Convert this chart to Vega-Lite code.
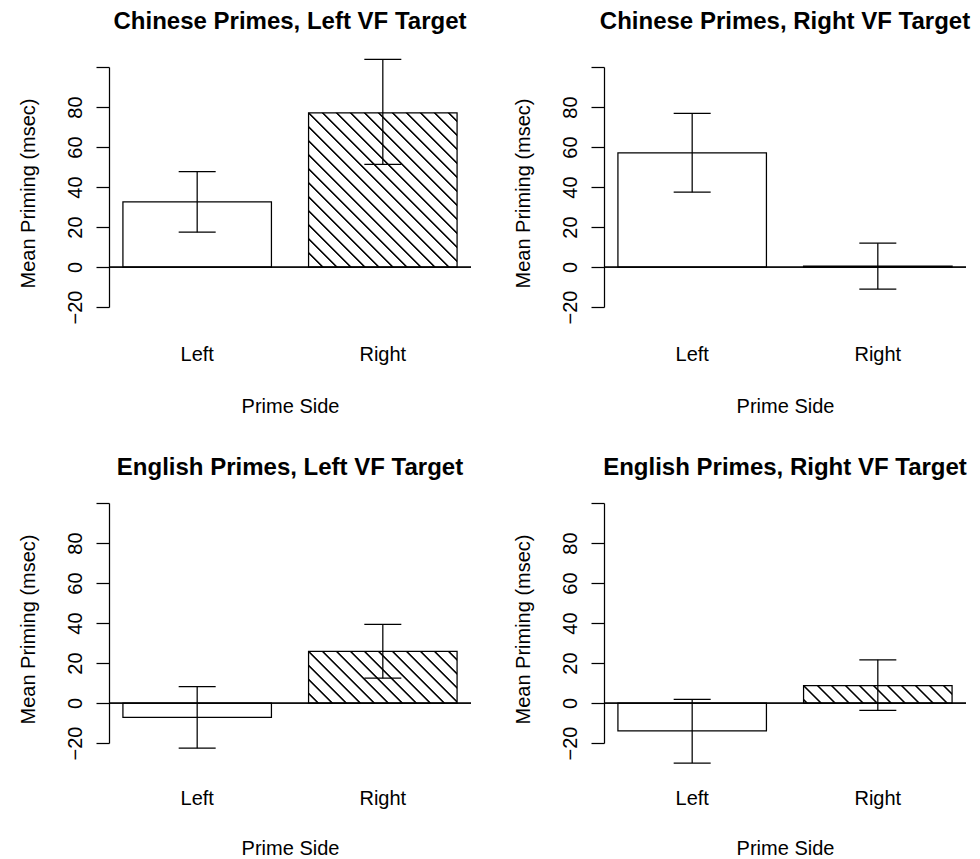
{
  "$schema": "https://vega.github.io/schema/vega-lite/v6.json",
  "background": "white",
  "padding": {"left": 17, "top": 10, "right": 5, "bottom": 0},
  "datasets": {
    "d": [
      {"panel": "cl", "side": "Left", "mean": 32.6, "lo": 17.4, "hi": 47.7},
      {"panel": "cl", "side": "Right", "mean": 77.1, "lo": 51.3, "hi": 103.8},
      {"panel": "cr", "side": "Left", "mean": 57.1, "lo": 37.4, "hi": 76.8},
      {"panel": "cr", "side": "Right", "mean": 0.5, "lo": -11.0, "hi": 11.9},
      {"panel": "el", "side": "Left", "mean": -7.2, "lo": -22.6, "hi": 8.2},
      {"panel": "el", "side": "Right", "mean": 25.8, "lo": 12.4, "hi": 39.3},
      {"panel": "er", "side": "Left", "mean": -13.9, "lo": -30.0, "hi": 1.8},
      {"panel": "er", "side": "Right", "mean": 8.7, "lo": -3.7, "hi": 21.6}
    ]
  },
  "columns": 2,
  "spacing": {"row": 196, "column": 133},
  "bounds": "flush",
  "concat": [
    {
      "title": {"text": "Chinese Primes, Left VF Target", "offset": 5.5, "frame": "group", "baseline": "alphabetic"},
      "width": 362, "height": 240,
      "data": {"name": "d"},
      "transform": [{"filter": "datum.panel == 'cl'"}],
      "layer": [
        {
          "encoding": {"x": {"field": "side", "type": "nominal", "scale": {"domain": ["Left", "Right"], "paddingInner": 0.2, "paddingOuter": 0.075}, "axis": {"title": "Prime Side", "labelPadding": 53, "titleY": 105}}},
          "layer": [
            {"transform": [{"filter": "datum.side == 'Left'"}], "mark": {"type": "bar", "fill": "white", "stroke": "black", "strokeWidth": 1.25, "opacity": 1},
             "encoding": {"y": {"field": "mean", "type": "quantitative", "scale": {"domain": [-20, 100], "nice": false, "zero": false}, "axis": {"title": "Mean Priming (msec)", "values": [-20, 0, 20, 40, 60, 80, 100], "labelExpr": "datum.value == 100 ? '' : datum.label", "labelOverlap": false}}}},
            {"transform": [{"filter": "datum.side == 'Right'"}], "mark": {"type": "bar", "stroke": "black", "strokeWidth": 1.25, "opacity": 1,
              "fill": {"gradient": "linear", "x1": 0, "y1": 1, "x2": 0.98081, "y2": -0.01846, "stops": [
                {"offset": 0.0416, "color": "#fff"}, {"offset": 0.0449, "color": "#000"}, {"offset": 0.0489, "color": "#000"}, {"offset": 0.0522, "color": "#fff"},
                {"offset": 0.0879, "color": "#fff"}, {"offset": 0.0912, "color": "#000"}, {"offset": 0.0952, "color": "#000"}, {"offset": 0.0985, "color": "#fff"},
                {"offset": 0.1341, "color": "#fff"}, {"offset": 0.1374, "color": "#000"}, {"offset": 0.1414, "color": "#000"}, {"offset": 0.1447, "color": "#fff"},
                {"offset": 0.1804, "color": "#fff"}, {"offset": 0.1837, "color": "#000"}, {"offset": 0.1877, "color": "#000"}, {"offset": 0.1910, "color": "#fff"},
                {"offset": 0.2266, "color": "#fff"}, {"offset": 0.2299, "color": "#000"}, {"offset": 0.2339, "color": "#000"}, {"offset": 0.2372, "color": "#fff"},
                {"offset": 0.2729, "color": "#fff"}, {"offset": 0.2762, "color": "#000"}, {"offset": 0.2802, "color": "#000"}, {"offset": 0.2835, "color": "#fff"},
                {"offset": 0.3191, "color": "#fff"}, {"offset": 0.3224, "color": "#000"}, {"offset": 0.3264, "color": "#000"}, {"offset": 0.3297, "color": "#fff"},
                {"offset": 0.3654, "color": "#fff"}, {"offset": 0.3687, "color": "#000"}, {"offset": 0.3727, "color": "#000"}, {"offset": 0.3760, "color": "#fff"},
                {"offset": 0.4116, "color": "#fff"}, {"offset": 0.4149, "color": "#000"}, {"offset": 0.4189, "color": "#000"}, {"offset": 0.4222, "color": "#fff"},
                {"offset": 0.4579, "color": "#fff"}, {"offset": 0.4612, "color": "#000"}, {"offset": 0.4652, "color": "#000"}, {"offset": 0.4685, "color": "#fff"},
                {"offset": 0.5041, "color": "#fff"}, {"offset": 0.5074, "color": "#000"}, {"offset": 0.5114, "color": "#000"}, {"offset": 0.5147, "color": "#fff"},
                {"offset": 0.5504, "color": "#fff"}, {"offset": 0.5537, "color": "#000"}, {"offset": 0.5577, "color": "#000"}, {"offset": 0.5610, "color": "#fff"},
                {"offset": 0.5966, "color": "#fff"}, {"offset": 0.5999, "color": "#000"}, {"offset": 0.6039, "color": "#000"}, {"offset": 0.6072, "color": "#fff"},
                {"offset": 0.6429, "color": "#fff"}, {"offset": 0.6462, "color": "#000"}, {"offset": 0.6502, "color": "#000"}, {"offset": 0.6535, "color": "#fff"},
                {"offset": 0.6891, "color": "#fff"}, {"offset": 0.6924, "color": "#000"}, {"offset": 0.6964, "color": "#000"}, {"offset": 0.6997, "color": "#fff"},
                {"offset": 0.7354, "color": "#fff"}, {"offset": 0.7387, "color": "#000"}, {"offset": 0.7427, "color": "#000"}, {"offset": 0.7460, "color": "#fff"},
                {"offset": 0.7816, "color": "#fff"}, {"offset": 0.7849, "color": "#000"}, {"offset": 0.7889, "color": "#000"}, {"offset": 0.7922, "color": "#fff"},
                {"offset": 0.8279, "color": "#fff"}, {"offset": 0.8312, "color": "#000"}, {"offset": 0.8352, "color": "#000"}, {"offset": 0.8385, "color": "#fff"},
                {"offset": 0.8741, "color": "#fff"}, {"offset": 0.8774, "color": "#000"}, {"offset": 0.8814, "color": "#000"}, {"offset": 0.8847, "color": "#fff"},
                {"offset": 0.9204, "color": "#fff"}, {"offset": 0.9237, "color": "#000"}, {"offset": 0.9277, "color": "#000"}, {"offset": 0.9310, "color": "#fff"},
                {"offset": 0.9666, "color": "#fff"}, {"offset": 0.9699, "color": "#000"}, {"offset": 0.9739, "color": "#000"}, {"offset": 0.9772, "color": "#fff"}
              ]}},
             "encoding": {"y": {"field": "mean", "type": "quantitative", "scale": {"domain": [-20, 100], "nice": false, "zero": false}, "axis": {"title": "Mean Priming (msec)", "values": [-20, 0, 20, 40, 60, 80, 100], "labelExpr": "datum.value == 100 ? '' : datum.label", "labelOverlap": false}}}}
          ]
        },
        {"mark": {"type": "rule", "color": "black", "strokeWidth": 1.25}, "encoding": {"y": {"datum": 0, "type": "quantitative", "scale": {"domain": [-20, 100], "nice": false, "zero": false}, "axis": {"title": "Mean Priming (msec)", "values": [-20, 0, 20, 40, 60, 80, 100], "labelExpr": "datum.value == 100 ? '' : datum.label", "labelOverlap": false}}}},
        {
          "encoding": {"x": {"field": "side", "type": "nominal", "scale": {"domain": ["Left", "Right"], "paddingInner": 0.2, "paddingOuter": 0.075}, "axis": {"title": "Prime Side", "labelPadding": 53, "titleY": 105}}},
          "layer": [
            {"mark": {"type": "rule", "color": "black", "strokeWidth": 1.25, "opacity": 1}, "encoding": {"y": {"field": "lo", "type": "quantitative", "scale": {"domain": [-20, 100], "nice": false, "zero": false}, "axis": {"title": "Mean Priming (msec)", "values": [-20, 0, 20, 40, 60, 80, 100], "labelExpr": "datum.value == 100 ? '' : datum.label", "labelOverlap": false}}, "y2": {"field": "hi"}}},
            {"mark": {"type": "tick", "color": "black", "size": 37, "thickness": 1.25, "opacity": 1}, "encoding": {"y": {"field": "lo", "type": "quantitative", "scale": {"domain": [-20, 100], "nice": false, "zero": false}, "axis": {"title": "Mean Priming (msec)", "values": [-20, 0, 20, 40, 60, 80, 100], "labelExpr": "datum.value == 100 ? '' : datum.label", "labelOverlap": false}}}},
            {"mark": {"type": "tick", "color": "black", "size": 37, "thickness": 1.25, "opacity": 1}, "encoding": {"y": {"field": "hi", "type": "quantitative", "scale": {"domain": [-20, 100], "nice": false, "zero": false}, "axis": {"title": "Mean Priming (msec)", "values": [-20, 0, 20, 40, 60, 80, 100], "labelExpr": "datum.value == 100 ? '' : datum.label", "labelOverlap": false}}}}
          ]
        }
      ]
    },
    {
      "title": {"text": "Chinese Primes, Right VF Target", "offset": 13, "frame": "group", "baseline": "alphabetic"},
      "width": 362, "height": 240,
      "data": {"name": "d"},
      "transform": [{"filter": "datum.panel == 'cr'"}],
      "layer": [
        {
          "encoding": {"x": {"field": "side", "type": "nominal", "scale": {"domain": ["Left", "Right"], "paddingInner": 0.2, "paddingOuter": 0.075}, "axis": {"title": "Prime Side", "labelPadding": 53, "titleY": 105}}},
          "layer": [
            {"mark": {"type": "bar", "fill": "white", "stroke": "black", "strokeWidth": 1.25, "opacity": 1},
             "encoding": {"y": {"field": "mean", "type": "quantitative", "scale": {"domain": [-20, 100], "nice": false, "zero": false}, "axis": {"title": "Mean Priming (msec)", "values": [-20, 0, 20, 40, 60, 80, 100], "labelExpr": "datum.value == 100 ? '' : datum.label", "labelOverlap": false}}}}
          ]
        },
        {"mark": {"type": "rule", "color": "black", "strokeWidth": 1.25}, "encoding": {"y": {"datum": 0, "type": "quantitative", "scale": {"domain": [-20, 100], "nice": false, "zero": false}, "axis": {"title": "Mean Priming (msec)", "values": [-20, 0, 20, 40, 60, 80, 100], "labelExpr": "datum.value == 100 ? '' : datum.label", "labelOverlap": false}}}},
        {
          "encoding": {"x": {"field": "side", "type": "nominal", "scale": {"domain": ["Left", "Right"], "paddingInner": 0.2, "paddingOuter": 0.075}, "axis": {"title": "Prime Side", "labelPadding": 53, "titleY": 105}}},
          "layer": [
            {"mark": {"type": "rule", "color": "black", "strokeWidth": 1.25, "opacity": 1}, "encoding": {"y": {"field": "lo", "type": "quantitative", "scale": {"domain": [-20, 100], "nice": false, "zero": false}, "axis": {"title": "Mean Priming (msec)", "values": [-20, 0, 20, 40, 60, 80, 100], "labelExpr": "datum.value == 100 ? '' : datum.label", "labelOverlap": false}}, "y2": {"field": "hi"}}},
            {"mark": {"type": "tick", "color": "black", "size": 37, "thickness": 1.25, "opacity": 1}, "encoding": {"y": {"field": "lo", "type": "quantitative", "scale": {"domain": [-20, 100], "nice": false, "zero": false}, "axis": {"title": "Mean Priming (msec)", "values": [-20, 0, 20, 40, 60, 80, 100], "labelExpr": "datum.value == 100 ? '' : datum.label", "labelOverlap": false}}}},
            {"mark": {"type": "tick", "color": "black", "size": 37, "thickness": 1.25, "opacity": 1}, "encoding": {"y": {"field": "hi", "type": "quantitative", "scale": {"domain": [-20, 100], "nice": false, "zero": false}, "axis": {"title": "Mean Priming (msec)", "values": [-20, 0, 20, 40, 60, 80, 100], "labelExpr": "datum.value == 100 ? '' : datum.label", "labelOverlap": false}}}}
          ]
        }
      ]
    },
    {
      "title": {"text": "English Primes, Left VF Target", "offset": 3, "frame": "group", "baseline": "alphabetic"},
      "width": 362, "height": 240,
      "data": {"name": "d"},
      "transform": [{"filter": "datum.panel == 'el'"}],
      "layer": [
        {
          "encoding": {"x": {"field": "side", "type": "nominal", "scale": {"domain": ["Left", "Right"], "paddingInner": 0.2, "paddingOuter": 0.075}, "axis": {"title": "Prime Side", "labelPadding": 61, "titleY": 111}}},
          "layer": [
            {"transform": [{"filter": "datum.side == 'Left'"}], "mark": {"type": "bar", "fill": "white", "stroke": "black", "strokeWidth": 1.25, "opacity": 1},
             "encoding": {"y": {"field": "mean", "type": "quantitative", "scale": {"domain": [-20, 100], "nice": false, "zero": false}, "axis": {"title": "Mean Priming (msec)", "values": [-20, 0, 20, 40, 60, 80, 100], "labelExpr": "datum.value == 100 ? '' : datum.label", "labelOverlap": false}}}},
            {"transform": [{"filter": "datum.side == 'Right'"}], "mark": {"type": "bar", "stroke": "black", "strokeWidth": 1.25, "opacity": 1,
              "fill": {"gradient": "linear", "x1": 0, "y1": 1, "x2": 1.20232, "y2": 0.58223, "stops": [
                {"offset": 0.0400, "color": "#fff"}, {"offset": 0.0450, "color": "#000"}, {"offset": 0.0510, "color": "#000"}, {"offset": 0.0560, "color": "#fff"},
                {"offset": 0.1099, "color": "#fff"}, {"offset": 0.1149, "color": "#000"}, {"offset": 0.1209, "color": "#000"}, {"offset": 0.1259, "color": "#fff"},
                {"offset": 0.1799, "color": "#fff"}, {"offset": 0.1849, "color": "#000"}, {"offset": 0.1909, "color": "#000"}, {"offset": 0.1959, "color": "#fff"},
                {"offset": 0.2499, "color": "#fff"}, {"offset": 0.2549, "color": "#000"}, {"offset": 0.2609, "color": "#000"}, {"offset": 0.2659, "color": "#fff"},
                {"offset": 0.3198, "color": "#fff"}, {"offset": 0.3248, "color": "#000"}, {"offset": 0.3308, "color": "#000"}, {"offset": 0.3358, "color": "#fff"},
                {"offset": 0.3898, "color": "#fff"}, {"offset": 0.3948, "color": "#000"}, {"offset": 0.4008, "color": "#000"}, {"offset": 0.4058, "color": "#fff"},
                {"offset": 0.4598, "color": "#fff"}, {"offset": 0.4648, "color": "#000"}, {"offset": 0.4708, "color": "#000"}, {"offset": 0.4758, "color": "#fff"},
                {"offset": 0.5297, "color": "#fff"}, {"offset": 0.5347, "color": "#000"}, {"offset": 0.5407, "color": "#000"}, {"offset": 0.5457, "color": "#fff"},
                {"offset": 0.5997, "color": "#fff"}, {"offset": 0.6047, "color": "#000"}, {"offset": 0.6107, "color": "#000"}, {"offset": 0.6157, "color": "#fff"},
                {"offset": 0.6697, "color": "#fff"}, {"offset": 0.6747, "color": "#000"}, {"offset": 0.6807, "color": "#000"}, {"offset": 0.6857, "color": "#fff"},
                {"offset": 0.7396, "color": "#fff"}, {"offset": 0.7446, "color": "#000"}, {"offset": 0.7506, "color": "#000"}, {"offset": 0.7556, "color": "#fff"},
                {"offset": 0.8096, "color": "#fff"}, {"offset": 0.8146, "color": "#000"}, {"offset": 0.8206, "color": "#000"}, {"offset": 0.8256, "color": "#fff"},
                {"offset": 0.8796, "color": "#fff"}, {"offset": 0.8846, "color": "#000"}, {"offset": 0.8906, "color": "#000"}, {"offset": 0.8956, "color": "#fff"},
                {"offset": 0.9495, "color": "#fff"}, {"offset": 0.9545, "color": "#000"}, {"offset": 0.9605, "color": "#000"}, {"offset": 0.9655, "color": "#fff"}
              ]}},
             "encoding": {"y": {"field": "mean", "type": "quantitative", "scale": {"domain": [-20, 100], "nice": false, "zero": false}, "axis": {"title": "Mean Priming (msec)", "values": [-20, 0, 20, 40, 60, 80, 100], "labelExpr": "datum.value == 100 ? '' : datum.label", "labelOverlap": false}}}}
          ]
        },
        {"mark": {"type": "rule", "color": "black", "strokeWidth": 1.25}, "encoding": {"y": {"datum": 0, "type": "quantitative", "scale": {"domain": [-20, 100], "nice": false, "zero": false}, "axis": {"title": "Mean Priming (msec)", "values": [-20, 0, 20, 40, 60, 80, 100], "labelExpr": "datum.value == 100 ? '' : datum.label", "labelOverlap": false}}}},
        {
          "encoding": {"x": {"field": "side", "type": "nominal", "scale": {"domain": ["Left", "Right"], "paddingInner": 0.2, "paddingOuter": 0.075}, "axis": {"title": "Prime Side", "labelPadding": 61, "titleY": 111}}},
          "layer": [
            {"mark": {"type": "rule", "color": "black", "strokeWidth": 1.25, "opacity": 1}, "encoding": {"y": {"field": "lo", "type": "quantitative", "scale": {"domain": [-20, 100], "nice": false, "zero": false}, "axis": {"title": "Mean Priming (msec)", "values": [-20, 0, 20, 40, 60, 80, 100], "labelExpr": "datum.value == 100 ? '' : datum.label", "labelOverlap": false}}, "y2": {"field": "hi"}}},
            {"mark": {"type": "tick", "color": "black", "size": 37, "thickness": 1.25, "opacity": 1}, "encoding": {"y": {"field": "lo", "type": "quantitative", "scale": {"domain": [-20, 100], "nice": false, "zero": false}, "axis": {"title": "Mean Priming (msec)", "values": [-20, 0, 20, 40, 60, 80, 100], "labelExpr": "datum.value == 100 ? '' : datum.label", "labelOverlap": false}}}},
            {"mark": {"type": "tick", "color": "black", "size": 37, "thickness": 1.25, "opacity": 1}, "encoding": {"y": {"field": "hi", "type": "quantitative", "scale": {"domain": [-20, 100], "nice": false, "zero": false}, "axis": {"title": "Mean Priming (msec)", "values": [-20, 0, 20, 40, 60, 80, 100], "labelExpr": "datum.value == 100 ? '' : datum.label", "labelOverlap": false}}}}
          ]
        }
      ]
    },
    {
      "title": {"text": "English Primes, Right VF Target", "offset": 3, "frame": "group", "baseline": "alphabetic"},
      "width": 362, "height": 240,
      "data": {"name": "d"},
      "transform": [{"filter": "datum.panel == 'er'"}],
      "layer": [
        {
          "encoding": {"x": {"field": "side", "type": "nominal", "scale": {"domain": ["Left", "Right"], "paddingInner": 0.2, "paddingOuter": 0.075}, "axis": {"title": "Prime Side", "labelPadding": 61, "titleY": 111}}},
          "layer": [
            {"transform": [{"filter": "datum.side == 'Left'"}], "mark": {"type": "bar", "fill": "white", "stroke": "black", "strokeWidth": 1.25, "opacity": 1},
             "encoding": {"y": {"field": "mean", "type": "quantitative", "scale": {"domain": [-20, 100], "nice": false, "zero": false}, "axis": {"title": "Mean Priming (msec)", "values": [-20, 0, 20, 40, 60, 80, 100], "labelExpr": "datum.value == 100 ? '' : datum.label", "labelOverlap": false}}}},
            {"transform": [{"filter": "datum.side == 'Right'"}], "mark": {"type": "bar", "stroke": "black", "strokeWidth": 1.25, "opacity": 1,
              "fill": {"gradient": "linear", "x1": 0, "y1": 1, "x2": 1.10205, "y2": 0.87087, "stops": [
                {"offset": 0.0109, "color": "#fff"}, {"offset": 0.0169, "color": "#000"}, {"offset": 0.0241, "color": "#000"}, {"offset": 0.0301, "color": "#fff"},
                {"offset": 0.0953, "color": "#fff"}, {"offset": 0.1013, "color": "#000"}, {"offset": 0.1085, "color": "#000"}, {"offset": 0.1145, "color": "#fff"},
                {"offset": 0.1797, "color": "#fff"}, {"offset": 0.1857, "color": "#000"}, {"offset": 0.1929, "color": "#000"}, {"offset": 0.1989, "color": "#fff"},
                {"offset": 0.2641, "color": "#fff"}, {"offset": 0.2701, "color": "#000"}, {"offset": 0.2773, "color": "#000"}, {"offset": 0.2833, "color": "#fff"},
                {"offset": 0.3485, "color": "#fff"}, {"offset": 0.3545, "color": "#000"}, {"offset": 0.3617, "color": "#000"}, {"offset": 0.3677, "color": "#fff"},
                {"offset": 0.4328, "color": "#fff"}, {"offset": 0.4388, "color": "#000"}, {"offset": 0.4460, "color": "#000"}, {"offset": 0.4520, "color": "#fff"},
                {"offset": 0.5172, "color": "#fff"}, {"offset": 0.5232, "color": "#000"}, {"offset": 0.5304, "color": "#000"}, {"offset": 0.5364, "color": "#fff"},
                {"offset": 0.6016, "color": "#fff"}, {"offset": 0.6076, "color": "#000"}, {"offset": 0.6148, "color": "#000"}, {"offset": 0.6208, "color": "#fff"},
                {"offset": 0.6860, "color": "#fff"}, {"offset": 0.6920, "color": "#000"}, {"offset": 0.6992, "color": "#000"}, {"offset": 0.7052, "color": "#fff"},
                {"offset": 0.7704, "color": "#fff"}, {"offset": 0.7764, "color": "#000"}, {"offset": 0.7836, "color": "#000"}, {"offset": 0.7896, "color": "#fff"},
                {"offset": 0.8548, "color": "#fff"}, {"offset": 0.8608, "color": "#000"}, {"offset": 0.8680, "color": "#000"}, {"offset": 0.8740, "color": "#fff"},
                {"offset": 0.9392, "color": "#fff"}, {"offset": 0.9452, "color": "#000"}, {"offset": 0.9524, "color": "#000"}, {"offset": 0.9584, "color": "#fff"}
              ]}},
             "encoding": {"y": {"field": "mean", "type": "quantitative", "scale": {"domain": [-20, 100], "nice": false, "zero": false}, "axis": {"title": "Mean Priming (msec)", "values": [-20, 0, 20, 40, 60, 80, 100], "labelExpr": "datum.value == 100 ? '' : datum.label", "labelOverlap": false}}}}
          ]
        },
        {"mark": {"type": "rule", "color": "black", "strokeWidth": 1.25}, "encoding": {"y": {"datum": 0, "type": "quantitative", "scale": {"domain": [-20, 100], "nice": false, "zero": false}, "axis": {"title": "Mean Priming (msec)", "values": [-20, 0, 20, 40, 60, 80, 100], "labelExpr": "datum.value == 100 ? '' : datum.label", "labelOverlap": false}}}},
        {
          "encoding": {"x": {"field": "side", "type": "nominal", "scale": {"domain": ["Left", "Right"], "paddingInner": 0.2, "paddingOuter": 0.075}, "axis": {"title": "Prime Side", "labelPadding": 61, "titleY": 111}}},
          "layer": [
            {"mark": {"type": "rule", "color": "black", "strokeWidth": 1.25, "opacity": 1}, "encoding": {"y": {"field": "lo", "type": "quantitative", "scale": {"domain": [-20, 100], "nice": false, "zero": false}, "axis": {"title": "Mean Priming (msec)", "values": [-20, 0, 20, 40, 60, 80, 100], "labelExpr": "datum.value == 100 ? '' : datum.label", "labelOverlap": false}}, "y2": {"field": "hi"}}},
            {"mark": {"type": "tick", "color": "black", "size": 37, "thickness": 1.25, "opacity": 1}, "encoding": {"y": {"field": "lo", "type": "quantitative", "scale": {"domain": [-20, 100], "nice": false, "zero": false}, "axis": {"title": "Mean Priming (msec)", "values": [-20, 0, 20, 40, 60, 80, 100], "labelExpr": "datum.value == 100 ? '' : datum.label", "labelOverlap": false}}}},
            {"mark": {"type": "tick", "color": "black", "size": 37, "thickness": 1.25, "opacity": 1}, "encoding": {"y": {"field": "hi", "type": "quantitative", "scale": {"domain": [-20, 100], "nice": false, "zero": false}, "axis": {"title": "Mean Priming (msec)", "values": [-20, 0, 20, 40, 60, 80, 100], "labelExpr": "datum.value == 100 ? '' : datum.label", "labelOverlap": false}}}}
          ]
        }
      ]
    }
  ],
  "config": {
    "font": "Liberation Sans",
    "view": {"stroke": null},
    "axis": {"labelFont": "Liberation Sans", "labelFontSize": 20, "labelColor": "black", "titleFont": "Liberation Sans", "titleFontSize": 20, "titleFontWeight": "normal", "titleColor": "black", "domainColor": "black", "domainWidth": 1.25, "tickColor": "black", "tickWidth": 1.25, "grid": false, "labelOverlap": false},
    "axisY": {"tickSize": 13, "labelPadding": 15, "labelAngle": -90, "labelAlign": "center", "labelBaseline": "alphabetic", "labelOverlap": false, "tickCount": 7, "titleX": -75, "titleY": 126, "titleAngle": -90, "titleAlign": "center", "titleBaseline": "alphabetic"},
    "axisX": {"domain": false, "ticks": false, "tickSize": 0, "labelAngle": 0, "labelBaseline": "alphabetic", "labelOverlap": false, "titleX": 181, "titleAlign": "center", "titleBaseline": "alphabetic"},
    "title": {"font": "Liberation Sans", "fontSize": 24, "fontWeight": "bold", "color": "black", "anchor": "middle"}
  }
}
